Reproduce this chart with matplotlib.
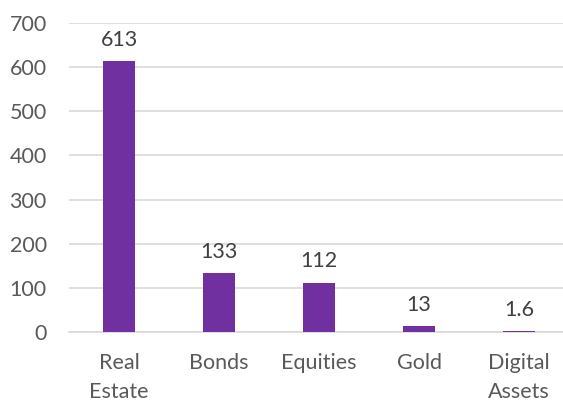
import matplotlib.pyplot as plt

categories = ["Real\nEstate", "Bonds", "Equities", "Gold", "Digital\nAssets"]
values = [613, 133, 112, 13, 1.6]
labels = ["613", "133", "112", "13", "1.6"]
yticks = [0, 100, 200, 300, 400, 500, 600, 700]

plt.rcParams['font.family'] = ['Lato', 'DejaVu Sans']
txt = '#595959'

fig = plt.figure(figsize=(5.63, 4.01), dpi=100)
ax = fig.add_axes([69/563, 69/401, 500/563, 309/401])

x = list(range(len(categories)))
ax.bar(x, values, width=0.32, color='#7030A0', linewidth=0, zorder=3)
for xi, v, lab in zip(x, values, labels):
    ax.annotate(lab, (xi, v), xytext=(0, 8), textcoords='offset points',
                ha='center', va='bottom', fontsize=15.5, color='#404040')

ax.set_xlim(-0.5, 4.5)
ax.set_ylim(0, 700)
ax.set_yticks(yticks)
ax.set_xticks(x)
ax.set_xticklabels(categories, linespacing=1.55)
ax.tick_params(axis='both', length=0, labelsize=15.5, colors=txt)
ax.tick_params(axis='x', pad=15, labelcolor=txt)
ax.tick_params(axis='y', pad=16)
ax.grid(axis='y', color='#D9D9D9', linewidth=1.2, zorder=0)
for s in ['top', 'right', 'left']:
    ax.spines[s].set_visible(False)
ax.spines['bottom'].set_color('#D9D9D9')
ax.spines['bottom'].set_linewidth(1.2)

fig.savefig('out.png', dpi=100)
